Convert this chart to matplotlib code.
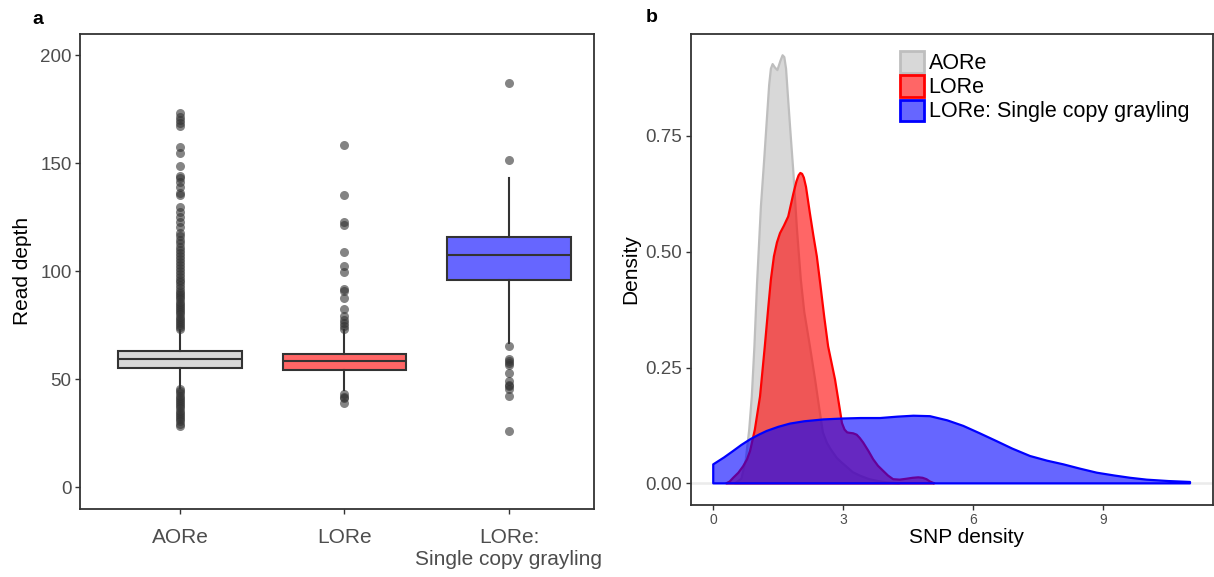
import matplotlib.pyplot as plt
from matplotlib.colors import to_rgb
from matplotlib.patches import Patch

plt.rcParams['font.family'] = ['Liberation Sans', 'DejaVu Sans']

# ---- panel a: read depth boxplots ----
groups = ['AORe', 'LORe', 'LORe:\nSingle copy grayling']
box_colors = ['#D8D8D8', '#FF6666', '#6666FF']
q1 = [55.3, 54.2, 95.8]
med = [59.5, 58.4, 107.4]
q3 = [63.0, 61.9, 115.7]
whisker_low = [46.0, 45.0, 67.0]
whisker_high = [73.0, 73.0, 143.1]

aore_fliers = [173.3, 171.5, 170.0, 168.4, 167.2, 157.6, 154.9, 148.7, 144.1, 143.0,
               141.5, 138.9, 136.4, 135.5, 129.9, 127.6, 125.3, 123.0, 120.7, 117.7,
               116.2, 114.5, 113.0, 111.4, 110.0, 108.6, 107.0, 105.5, 104.3, 102.8,
               101.5, 100.0, 98.6, 97.2, 96.0, 94.8, 93.5, 92.2, 91.0, 90.0,
               89.0, 88.0, 87.0, 86.0, 85.0, 84.0, 83.0, 82.0, 81.0, 80.0,
               79.0, 78.0, 77.0, 76.0, 75.0, 74.0, 73.5,
               45.5, 44.5, 43.5, 42.5, 41.5, 40.5, 39.5, 38.5, 37.5, 36.5,
               35.5, 34.5, 33.5, 32.5, 31.5, 30.5, 29.5, 28.5]
lore_fliers = [158.6, 135.5, 123.0, 121.2, 108.9, 102.2, 99.5, 91.8, 91.0, 87.6,
               82.5, 79.1, 77.6, 76.0, 74.5, 73.5, 43.0, 42.0, 41.4, 39.1]
single_fliers = [187.0, 151.4, 65.3, 59.6, 58.5, 57.6, 56.4, 53.0, 49.1, 47.5,
                 46.8, 45.3, 42.5, 26.3]
fliers = [aore_fliers, lore_fliers, single_fliers]

# ---- panel b: SNP density curves ----
aore_x = [0.50, 0.65, 0.75, 0.83, 0.89, 0.95, 1.01, 1.10, 1.18, 1.24, 1.29, 1.33,
          1.37, 1.42, 1.48, 1.55, 1.60, 1.64, 1.68, 1.72, 1.78, 1.85, 1.93, 2.02,
          2.10, 2.23, 2.35, 2.46, 2.53, 2.62, 2.70, 2.85, 2.95, 3.05, 3.22, 3.40,
          3.60, 3.80, 4.00, 4.30]
aore_y = [0.000, 0.010, 0.050, 0.116, 0.188, 0.296, 0.430, 0.598, 0.705, 0.790, 0.860, 0.895,
          0.905, 0.898, 0.892, 0.912, 0.924, 0.920, 0.895, 0.840, 0.760, 0.670, 0.550, 0.440,
          0.370, 0.296, 0.224, 0.153, 0.110, 0.088, 0.075, 0.055, 0.046, 0.038, 0.024, 0.016,
          0.009, 0.005, 0.002, 0.000]
lore_x = [0.30, 0.38, 0.46, 0.58, 0.69, 0.78, 0.85, 0.96, 1.08, 1.19, 1.27, 1.33,
          1.40, 1.47, 1.54, 1.63, 1.73, 1.85, 1.92, 1.97, 2.01, 2.05, 2.09, 2.14,
          2.23, 2.31, 2.39, 2.47, 2.56, 2.65, 2.81, 2.92, 2.97, 3.03, 3.09, 3.15,
          3.23, 3.31, 3.38, 3.46, 3.58, 3.69, 3.80, 3.92, 4.03, 4.15, 4.30, 4.46,
          4.60, 4.73, 4.83, 4.92, 5.00, 5.10]
lore_y = [0.000, 0.004, 0.012, 0.023, 0.037, 0.052, 0.070, 0.116, 0.188, 0.296, 0.380, 0.440,
          0.490, 0.520, 0.540, 0.556, 0.576, 0.626, 0.652, 0.665, 0.670, 0.668, 0.660, 0.640,
          0.583, 0.535, 0.490, 0.430, 0.360, 0.296, 0.224, 0.160, 0.130, 0.116, 0.110, 0.109,
          0.108, 0.105, 0.098, 0.088, 0.070, 0.052, 0.038, 0.027, 0.017, 0.009, 0.008, 0.010,
          0.012, 0.013, 0.012, 0.009, 0.004, 0.000]
single_x = [0.00, 0.25, 0.46, 0.65, 0.85, 1.05, 1.23, 1.50, 1.77, 2.10, 2.54, 3.00,
            3.40, 3.85, 4.25, 4.62, 5.00, 5.40, 5.77, 6.15, 6.54, 6.90, 7.31, 7.70,
            8.08, 8.45, 8.85, 9.25, 9.62, 10.00, 10.50, 11.00]
single_y = [0.041, 0.056, 0.070, 0.083, 0.095, 0.105, 0.113, 0.122, 0.129, 0.134, 0.138, 0.140,
            0.141, 0.141, 0.144, 0.146, 0.145, 0.136, 0.124, 0.108, 0.091, 0.075, 0.059, 0.049,
            0.041, 0.032, 0.023, 0.017, 0.012, 0.008, 0.005, 0.003]

density_labels = ['AORe', 'LORe', 'LORe: Single copy grayling']
density_colors = ['#BEBEBE', '#FF0000', '#0000FF']

tick_grey = '#4D4D4D'
frame = '#333333'

fig = plt.figure(figsize=(12.14, 5.77), dpi=100)
ax1 = fig.add_axes([80 / 1214, 1 - 509 / 577, 514 / 1214, 475.5 / 577])
ax2 = fig.add_axes([690.7 / 1214, 1 - 505 / 577, 522.3 / 1214, 471.5 / 577])

# panel a
stats = []
for i in range(3):
    stats.append({'q1': q1[i], 'med': med[i], 'q3': q3[i],
                  'whislo': whisker_low[i], 'whishi': whisker_high[i],
                  'fliers': fliers[i], 'label': groups[i]})
bp = ax1.bxp(stats, positions=[1, 2, 3], widths=0.75, patch_artist=True,
             showcaps=False,
             boxprops=dict(edgecolor=frame, linewidth=1.5),
             medianprops=dict(color=frame, linewidth=1.5),
             whiskerprops=dict(color=frame, linewidth=1.5),
             flierprops=dict(marker='o', markerfacecolor=frame, markeredgecolor='none',
                             markersize=6.5, alpha=0.6))
for patch, c in zip(bp['boxes'], box_colors):
    patch.set_facecolor(c)

ax1.set_xlim(0.392, 3.517)
ax1.set_ylim(-10, 210)
ax1.set_yticks([0, 50, 100, 150, 200])
ax1.set_ylabel('Read depth', fontsize=15, labelpad=6)
ax1.tick_params(axis='y', labelsize=13.5, colors=frame, labelcolor=tick_grey,
                length=3.5, width=1, pad=2.5)
ax1.tick_params(axis='x', labelsize=15, colors=frame, labelcolor=tick_grey,
                length=3.5, width=1, pad=10)

# panel b
ax2.axhline(0, color='#EBEBEB', linewidth=1.8, zorder=0)
for xs, ys, c in zip([aore_x, lore_x, single_x], [aore_y, lore_y, single_y], density_colors):
    ax2.fill_between(xs, ys, 0, facecolor=c, alpha=0.6, linewidth=0)
    ax2.fill(xs + [xs[-1], xs[0]], ys + [0, 0], facecolor='none', edgecolor=c,
             linewidth=1.6, joinstyle='round')

ax2.set_xlim(-0.52, 11.53)
ax2.set_ylim(-0.0467, 0.971)
ax2.set_xticks([0, 3, 6, 9])
ax2.set_yticks([0, 0.25, 0.5, 0.75])
ax2.set_yticklabels(['0.00', '0.25', '0.50', '0.75'])
ax2.set_xlabel('SNP density', fontsize=15)
ax2.xaxis.set_label_coords(0.529, -0.048)
ax2.set_ylabel('Density', fontsize=15, labelpad=4)
ax2.tick_params(axis='y', labelsize=13.5, colors=frame, labelcolor=tick_grey,
                length=3.5, width=1, pad=2.5)
ax2.tick_params(axis='x', labelsize=10, colors=frame, labelcolor=tick_grey,
                length=3.5, width=1, pad=2.5)

handles = []
for c in density_colors:
    handles.append(Patch(facecolor=(*to_rgb(c), 0.6), edgecolor=c, linewidth=2))
ax2.legend(handles, density_labels, loc='upper left', bbox_to_anchor=(0.4, 0.962),
           frameon=False, fontsize=15.5, borderpad=0, borderaxespad=0,
           handlelength=1.15, handleheight=1.15, handletextpad=0.2,
           labelspacing=0.05)

for ax in (ax1, ax2):
    for s in ax.spines.values():
        s.set_color(frame)
        s.set_linewidth(1.3)

fig.text(32 / 1214, 1 - 19 / 577, 'a', fontsize=14, fontweight='bold', va='center')
fig.text(646 / 1214, 1 - 17 / 577, 'b', fontsize=14, fontweight='bold', va='center')

fig.savefig('out.png', dpi=100)
